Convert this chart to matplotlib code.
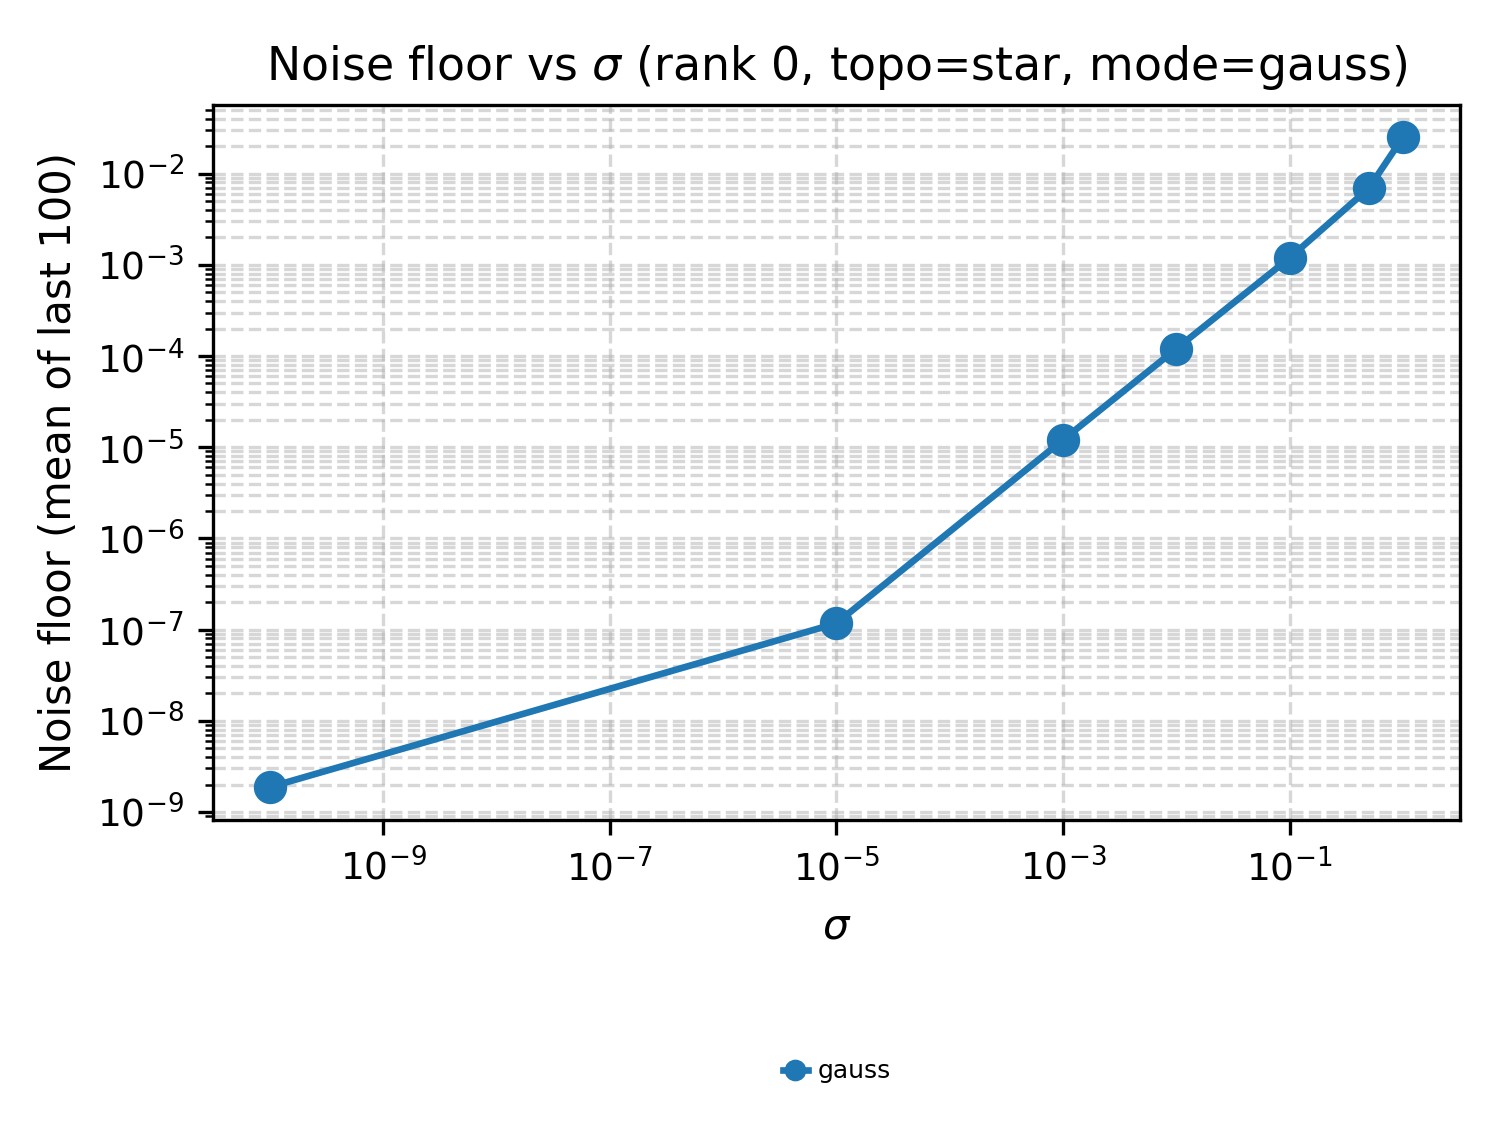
import matplotlib
matplotlib.use("Agg")
import matplotlib.pyplot as plt
import numpy as np

#==[0] Data
sigmas = [1e-10, 1e-5, 1e-3, 1e-2, 1e-1, 0.5, 1.0]
noise_floor = [1.87e-9, 1.17e-7, 1.2e-5, 1.2e-4, 1.19e-3, 6.9e-3, 0.025]
mode = "gauss"

#==[1] Plot
fig, ax = plt.subplots(figsize=(5, 3.8), dpi=300)
fig.subplots_adjust(left=0.142, right=0.973, top=0.908, bottom=0.281)

ax.plot(sigmas, noise_floor, marker="o", lw=1.6, markersize=7, label=mode)
ax.set_xscale("log")
ax.set_yscale("log")
ax.grid(True, which="both", ls="--", color="#b0b0b0", alpha=0.5, lw=0.8)
ax.tick_params(labelsize=9)

ax.set_xlabel(r"$\sigma$", fontsize=10)
ax.set_ylabel("Noise floor (mean of last 100)", fontsize=10)
ax.set_title(r"Noise floor vs $\sigma$ (rank 0, topo=star, mode=gauss)", fontsize=11)

fig.legend(loc="lower center", bbox_to_anchor=(0.558, 0.03), frameon=False,
           fontsize=6, handlelength=1.0, markerscale=0.6, handletextpad=0.4)

fig.savefig("out.png", dpi=300)
